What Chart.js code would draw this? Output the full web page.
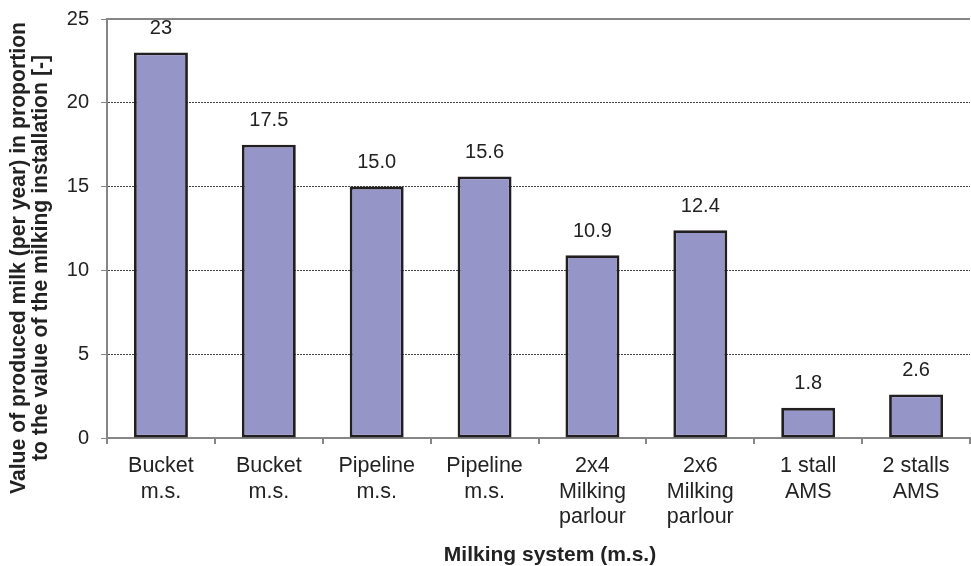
<!DOCTYPE html>
<html>
<head>
<meta charset="utf-8">
<script src="https://cdn.jsdelivr.net/npm/chart.js@4/dist/chart.umd.min.js"></script>
<style>
  html, body { margin: 0; padding: 0; background: #fff; }
  #wrap { width: 971px; height: 566px; }
</style>
</head>
<body>
<div id="wrap"><canvas id="c" width="971" height="566"></canvas></div>
<script>
// Milking systems compared
const categories = [
  ['Bucket', 'm.s.'],
  ['Bucket', 'm.s.'],
  ['Pipeline', 'm.s.'],
  ['Pipeline', 'm.s.'],
  ['2x4', 'Milking', 'parlour'],
  ['2x6', 'Milking', 'parlour'],
  ['1 stall', 'AMS'],
  ['2 stalls', 'AMS']
];
// Value of produced milk (per year) relative to the installation value
const valueLabels = ['23', '17.5', '15.0', '15.6', '10.9', '12.4', '1.8', '2.6'];
const values = valueLabels.map(Number);
const yTicks = [0, 5, 10, 15, 20, 25];
const xTitle = 'Milking system (m.s.)';
const yTitle = ['Value of produced milk (per year) in proportion', 'to the value of the milking installation [-]'];

const TEXT = '#222222';
const AXIS = '#868686';
const FONT = "'Liberation Sans', Arial, sans-serif";

// Value labels above the bars, the solid top frame line and the axis titles
const overlay = {
  id: 'overlay',
  afterDatasetsDraw(chart) {
    const { ctx, chartArea } = chart;
    const y = chart.scales.y;
    const meta = chart.getDatasetMeta(0);
    ctx.save();
    ctx.strokeStyle = AXIS;
    ctx.lineWidth = 2;
    const yTop = Math.round(y.getPixelForValue(yTicks[yTicks.length - 1]));
    ctx.beginPath();
    ctx.moveTo(chartArea.left, yTop);
    ctx.lineTo(chartArea.right, yTop);
    ctx.stroke();

    ctx.fillStyle = TEXT;
    ctx.font = '20px ' + FONT;
    ctx.textAlign = 'center';
    ctx.textBaseline = 'middle';
    meta.data.forEach((bar, i) => {
      ctx.fillText(valueLabels[i], bar.x, bar.y - 24);
    });

    // x axis title
    ctx.font = 'bold 21px ' + FONT;
    ctx.fillText(xTitle, chartArea.left + 443, 555);

    // y axis title, rotated
    ctx.translate(30, 258);
    ctx.rotate(-Math.PI / 2);
    ctx.font = 'bold 21.2px ' + FONT;
    ctx.fillText(yTitle[0], 0, -11);
    ctx.fillText(yTitle[1], 0, 11);
    ctx.restore();
  }
};

new Chart(document.getElementById('c'), {
  type: 'bar',
  data: {
    labels: categories,
    datasets: [{
      data: values,
      backgroundColor: '#9595c8',
      borderColor: '#231f20',
      borderWidth: 2.8,
      borderSkipped: false,
      barPercentage: 0.5,
      categoryPercentage: 1.0
    }]
  },
  options: {
    responsive: false,
    animation: false,
    devicePixelRatio: 1,
    layout: { padding: { left: 0, right: 1, top: 0, bottom: 0 } },
    plugins: {
      legend: { display: false },
      tooltip: { enabled: false }
    },
    scales: {
      x: {
        offset: true,
        grid: {
          offset: true,
          drawOnChartArea: false,
          drawTicks: true,
          tickLength: 6,
          color: AXIS,
          lineWidth: 2
        },
        border: { display: true, color: AXIS, width: 2 },
        ticks: {
          color: TEXT,
          font: { family: FONT, size: 21.5, lineHeight: 1.2 },
          padding: 9,
          maxRotation: 0,
          autoSkip: false
        },
        afterFit(scale) { scale.height = 128; }
      },
      y: {
        min: 0,
        max: 25,
        afterBuildTicks(scale) { scale.ticks = yTicks.map(v => ({ value: v })); },
        grid: {
          drawTicks: true,
          tickLength: 6,
          color: (c) => (c.tick && c.tick.value > 0 && c.tick.value < 25) ? '#444444' : 'rgba(0,0,0,0)',
          tickColor: AXIS,
          lineWidth: 1
        },
        border: { display: true, color: AXIS, width: 2, dash: [2, 1] },
        ticks: {
          color: TEXT,
          font: { family: FONT, size: 20, lineHeight: 1.0 },
          padding: 12
        },
        afterFit(scale) {
          scale.width = 107;
          scale.paddingTop = 19;
          scale.paddingBottom = 0;
        }
      }
    }
  },
  plugins: [overlay]
});
</script>
</body>
</html>
